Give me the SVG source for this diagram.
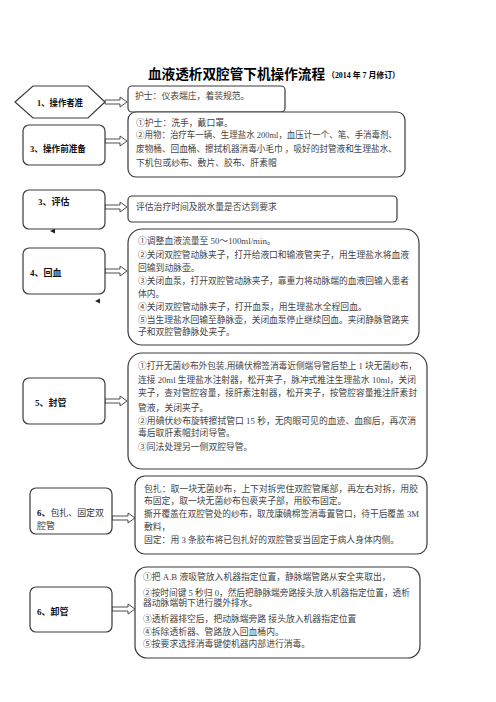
<svg xmlns="http://www.w3.org/2000/svg" width="496" height="702" viewBox="0 0 496 702">
<style>
.bx{fill:#fff;stroke:#3a3a3a;stroke-width:1.2}
.ar{fill:#fff;stroke:#3a3a3a;stroke-width:0.9}
.t{font-family:"Liberation Serif","Noto Sans CJK SC",serif;font-size:8.8px;fill:#444}
.lb{font-family:"Liberation Serif","Noto Sans CJK SC",serif;font-size:9px;font-weight:bold;fill:#111}
.lr{font-family:"Liberation Serif","Noto Sans CJK SC",serif;font-size:9px;fill:#333}
.ti{font-family:"Liberation Serif","Noto Sans CJK SC",serif;font-weight:bold;fill:#000}
</style>
<rect width="496" height="702" fill="#fff"/>
<g id="title">
<text class="ti" x="148" y="79" font-size="13.5" textLength="177" lengthAdjust="spacingAndGlyphs">血液透析双腔管下机操作流程</text>
<text class="ti" x="327" y="78" font-size="8" textLength="73" lengthAdjust="spacingAndGlyphs">（2014 年 7 月修订）</text>
</g>
<g id="connectors">
<polygon class="ar" points="105,100 120,100 120,97 127,102 120,107 120,104 105,104"/>
<polygon class="ar" points="105,139 120,139 120,136 127,141 120,146 120,143 105,143"/>
<polygon class="ar" points="105,205 120,205 120,202 127,207 120,212 120,209 105,209"/>
<polygon class="ar" points="105,269 120,269 120,266 127,271 120,276 120,273 105,273"/>
<polygon class="ar" points="105,399 120,399 120,396 127,401 120,406 120,403 105,403"/>
<polygon class="ar" points="112,516 128,516 128,513 135,518 128,523 128,520 112,520"/>
<polygon class="ar" points="112,607 128,607 128,604 135,609 128,614 128,611 112,611"/>
<polygon fill="#222" points="50,231 55,228.5 55,233.5"/>
<polygon fill="#222" points="95,301 100,298.5 100,303.5"/>
</g>
<g id="n1">
<polygon class="bx" points="15,102 33,86 88,86 105,102 88,118 33,118"/>
<text class="lb" x="37" y="106" textLength="46" lengthAdjust="spacingAndGlyphs">1、操作者准</text>
</g>
<g id="b1">
<rect class="bx" x="128" y="86" width="157" height="26" rx="4"/>
<text class="t" x="135" y="99">护士：仪表端庄，着装规范。</text>
</g>
<g id="n2">
<rect class="bx" x="23" y="125" width="82" height="40" rx="6"/>
<text class="lb" x="30" y="152" textLength="56" lengthAdjust="spacingAndGlyphs">3、操作前准备</text>
</g>
<g id="b2">
<rect class="bx" x="128" y="112" width="277" height="65" rx="8"/>
<text class="t" x="136" y="126">①护士：洗手，戴口罩。</text>
<text class="t" x="136" y="138" textLength="261" lengthAdjust="spacingAndGlyphs">②用物：治疗车一辆、生理盐水 200ml，血压计一个、笔、手消毒剂、</text>
<text class="t" x="136" y="152" textLength="261" lengthAdjust="spacingAndGlyphs">废物桶、回血桶、擦拭机器消毒小毛巾 ，吸好的封管液和生理盐水、</text>
<text class="t" x="136" y="166">下机包或纱布、敷片、胶布、肝素帽</text>
</g>
<g id="n3">
<rect class="bx" x="23" y="190" width="82" height="39" rx="6"/>
<text class="lb" x="38" y="205">3、评估</text>
</g>
<g id="b3">
<rect class="bx" x="128" y="196" width="269" height="26" rx="4"/>
<text class="t" x="136" y="210">评估治疗时间及脱水量是否达到要求</text>
</g>
<g id="n4">
<rect class="bx" x="23" y="248" width="82" height="46" rx="6"/>
<text class="lb" x="30" y="276">4、回血</text>
</g>
<g id="b4">
<rect class="bx" x="128" y="229" width="291" height="116" rx="14"/>
<text class="t" x="138" y="244">①调整血液流量至 50～100ml/min。</text>
<text class="t" x="138" y="258" textLength="271" lengthAdjust="spacingAndGlyphs">②关闭双腔管动脉夹子，打开给液口和输液管夹子，用生理盐水将血液</text>
<text class="t" x="138" y="271">回输到动脉壶。</text>
<text class="t" x="138" y="284" textLength="271" lengthAdjust="spacingAndGlyphs">③关闭血泵，打开双腔管动脉夹子，靠重力将动脉端的血液回输入患者</text>
<text class="t" x="138" y="297">体内。</text>
<text class="t" x="138" y="310">④关闭双腔管动脉夹子，打开血泵，用生理盐水全程回血。</text>
<text class="t" x="138" y="323" textLength="271" lengthAdjust="spacingAndGlyphs">⑤当生理盐水回输至静脉壶，关闭血泵停止继续回血。夹闭静脉管路夹</text>
<text class="t" x="138" y="335">子和双腔管静脉处夹子。</text>
</g>
<g id="n5">
<rect class="bx" x="23" y="378" width="82" height="46" rx="6"/>
<text class="lb" x="35" y="406">5、封管</text>
</g>
<g id="b5">
<rect class="bx" x="128" y="353" width="299" height="116" rx="14"/>
<text class="t" x="138" y="369" textLength="279" lengthAdjust="spacingAndGlyphs">①打开无菌纱布外包装,用碘伏棉签消毒近侧端导管后垫上 1 块无菌纱布，</text>
<text class="t" x="138" y="383" textLength="278" lengthAdjust="spacingAndGlyphs">连接 20ml 生理盐水注射器，松开夹子，脉冲式推注生理盐水 10ml，关闭</text>
<text class="t" x="138" y="396" textLength="279" lengthAdjust="spacingAndGlyphs">夹子，查对管腔容量，接肝素注射器，松开夹子，按管腔容量推注肝素封</text>
<text class="t" x="138" y="411">管液，关闭夹子。</text>
<text class="t" x="138" y="424" textLength="278" lengthAdjust="spacingAndGlyphs">②用碘伏纱布旋转擦拭管口 15 秒，无肉眼可见的血迹、血痂后，再次消</text>
<text class="t" x="138" y="436">毒后取肝素帽封闭导管。</text>
<text class="t" x="138" y="450">③同法处理另一侧双腔导管。</text>
</g>
<g id="n6">
<rect class="bx" x="30" y="488" width="82" height="46" rx="6"/>
<text class="lr" x="37" y="516" textLength="67" lengthAdjust="spacingAndGlyphs"><tspan font-weight="bold" fill="#111">6、</tspan>包扎、固定双</text>
<text class="lr" x="37" y="529">腔管</text>
</g>
<g id="b6">
<rect class="bx" x="135" y="476" width="292" height="78" rx="10"/>
<text class="t" x="144" y="492" textLength="274" lengthAdjust="spacingAndGlyphs">包扎：取一块无菌纱布，上下对拆兜住双腔管尾部，再左右对拆，用胶</text>
<text class="t" x="144" y="504">布固定，取一块无菌纱布包裹夹子部，用胶布固定。</text>
<text class="t" x="144" y="517" textLength="275" lengthAdjust="spacingAndGlyphs">撕开覆盖在双腔管处的纱布，取茂康碘棉签消毒置管口，待干后覆盖 3M</text>
<text class="t" x="144" y="530">敷料，</text>
<text class="t" x="144" y="543">固定：用 3 条胶布将已包扎好的双腔管妥当固定于病人身体内侧。</text>
</g>
<g id="n7">
<rect class="bx" x="30" y="587" width="82" height="45" rx="6"/>
<text class="lb" x="37" y="615">6、卸管</text>
</g>
<g id="b7">
<rect class="bx" x="135" y="567" width="285" height="91" rx="12"/>
<text class="t" x="143" y="580">①把 A.B 液吸管放入机器指定位置，静脉端管路从安全夹取出，</text>
<text class="t" x="143" y="596" textLength="267" lengthAdjust="spacingAndGlyphs">②按时间键 5 秒归 0，然后把静脉端旁路接头放入机器指定位置，透析</text>
<text class="t" x="143" y="606">器动脉端朝下进行膜外排水。</text>
<text class="t" x="143" y="622">③透析器排空后，把动脉端旁路 接头放入机器指定位置</text>
<text class="t" x="143" y="635">④拆除透析器、管路放入回血桶内。</text>
<text class="t" x="143" y="647">⑤按要求选择消毒键使机器内部进行消毒。</text>
</g>
</svg>
